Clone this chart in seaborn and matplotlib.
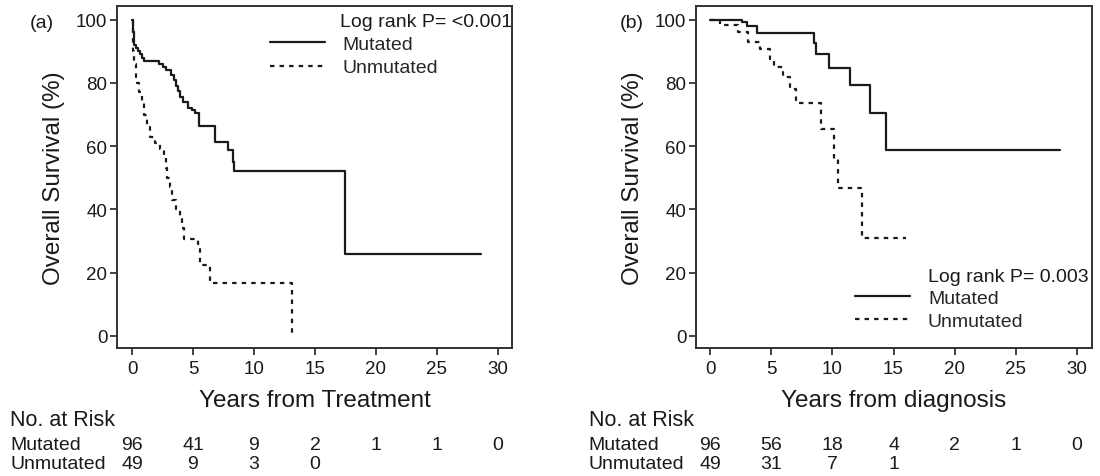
import matplotlib
matplotlib.use("Agg")
import matplotlib.pyplot as plt
import matplotlib.transforms as mtransforms
import seaborn as sns
import pandas as pd

# ---------------- data ----------------
# Panel (a): years from treatment
a_mut_t = [0, 0.05, 0.1, 0.15, 0.2, 0.35, 0.5, 0.65, 0.8, 0.95, 2.2, 2.5, 2.75, 3.2, 3.45,
           3.6, 3.75, 3.9, 4.2, 4.6, 4.9, 5.2, 5.5, 6.8, 7.9, 8.25, 8.35, 17.5, 28.6]
a_mut_s = [100, 98, 96, 94, 92, 91, 90, 89, 88, 87, 86, 85, 84, 82.5, 81,
           79, 77.5, 75.6, 74, 72, 71.5, 70.5, 66.5, 61.4, 58.7, 55, 52, 26, 26]
a_unm_t = [0, 0.05, 0.1, 0.2, 0.3, 0.45, 0.6, 0.8, 1.0, 1.2, 1.5, 1.9, 2.3, 2.6, 2.75,
           2.9, 3.1, 3.3, 3.6, 3.9, 4.1, 4.3, 5.45, 5.6, 6.4, 13.1]
a_unm_s = [100, 94, 90, 86, 82, 80, 77, 74, 70, 66, 63, 61, 59, 57, 53,
           50, 47, 43, 40, 37, 34, 30.5, 29, 22.5, 16.8, 0]

# Panel (b): years from diagnosis
b_mut_t = [0, 2.6, 3.0, 3.8, 8.5, 8.7, 9.7, 11.45, 13.05, 14.4, 28.6]
b_mut_s = [100, 99.2, 97.9, 95.8, 92.6, 89, 84.7, 79.2, 70.5, 58.7, 58.7]
b_unm_t = [0, 0.8, 2.3, 3.1, 4.1, 4.9, 5.2, 6.0, 6.5, 7.0, 9.05, 10.1, 10.45, 12.45, 16.05]
b_unm_s = [100, 98.3, 96, 93, 90.7, 87.6, 85, 81.8, 78, 73.6, 65.4, 56, 46.7, 31, 31]

groups = ["Mutated", "Unmutated"]
risk_times = [0, 5, 10, 15, 20, 25, 30]
a_risk_mut = ["96", "41", "9", "2", "1", "1", "0"]
a_risk_unm = ["49", "9", "3", "0"]
b_risk_mut = ["96", "56", "18", "4", "2", "1", "0"]
b_risk_unm = ["49", "31", "7", "1"]

xticks = [0, 5, 10, 15, 20, 25, 30]
yticks = [0, 20, 40, 60, 80, 100]

# ---------------- style ----------------
sns.set_style("ticks")
plt.rcParams["font.family"] = ["Liberation Sans", "DejaVu Sans"]
plt.rcParams["axes.edgecolor"] = "#333333"
plt.rcParams["axes.linewidth"] = 1.4

W, H = 1100, 477
fig = plt.figure(figsize=(W / 100, H / 100), dpi=100)

def px_axes(l, r, t, b):
    return fig.add_axes([l / W, 1 - b / H, (r - l) / W, (b - t) / H])

ax_a = px_axes(117, 512, 7.3, 349)
ax_b = px_axes(696, 1091.7, 7.3, 349)

LINE = "#1a1a1a"
DOT = (0, (2, 2.3))

def draw_panel(ax, mt, ms, ut, us, xlim):
    dm = pd.DataFrame({"t": mt, "s": ms})
    du = pd.DataFrame({"t": ut, "s": us})
    sns.lineplot(data=dm, x="t", y="s", ax=ax, estimator=None, sort=False,
                 drawstyle="steps-post", color=LINE, linewidth=1.6, label=groups[0])
    sns.lineplot(data=du, x="t", y="s", ax=ax, estimator=None, sort=False,
                 drawstyle="steps-post", color=LINE, linewidth=1.6, linestyle=DOT,
                 label=groups[1])
    ax.set_xlim(*xlim)
    ax.set_ylim(-3.8, 104.2)
    ax.set_xticks(xticks)
    ax.set_yticks(yticks)
    ax.tick_params(axis="both", direction="out", length=5, width=1.3,
                   color="#333333", labelsize=13.5, labelcolor="#1a1a1a")
    ax.tick_params(axis="x", pad=4)
    ax.tick_params(axis="y", pad=2)
    ax.set_ylabel("Overall Survival (%)", fontsize=17.5, color="#1a1a1a", labelpad=8)
    for sp in ax.spines.values():
        sp.set_visible(True)

draw_panel(ax_a, a_mut_t, a_mut_s, a_unm_t, a_unm_s, (-1.23, 31.15))
draw_panel(ax_b, b_mut_t, b_mut_s, b_unm_t, b_unm_s, (-1.15, 31.2))
ax_a.set_xlabel("Years from Treatment", fontsize=17.5, color="#1a1a1a", labelpad=8)
ax_b.set_xlabel("Years from diagnosis", fontsize=17.5, color="#1a1a1a", labelpad=8)

# legends
for ax, lx, ly in [(ax_a, 0.387, 0.855), (ax_b, 0.402, 0.112)]:
    ax.legend(loc="center left", bbox_to_anchor=(lx, ly), frameon=False,
              fontsize=14, handlelength=2.85, handletextpad=0.9,
              labelspacing=0.3, borderpad=0, borderaxespad=0)

ax_a.text(0.5646, 0.955, "Log rank P= <0.001", transform=ax_a.transAxes,
          fontsize=14, va="center", ha="left", color="#1a1a1a")
ax_b.text(0.586, 0.2107, "Log rank P= 0.003", transform=ax_b.transAxes,
          fontsize=14, va="center", ha="left", color="#1a1a1a")

# panel labels
fig.text(30 / W, 1 - 23 / H, "(a)", fontsize=14, va="center", ha="left", color="#1a1a1a")
fig.text(620 / W, 1 - 23 / H, "(b)", fontsize=14, va="center", ha="left", color="#1a1a1a")

# risk tables
def risk_table(ax, x0px, mut, unm):
    fig.text(x0px / W, 1 - 421 / H, "No. at Risk", fontsize=15.5, va="center",
             ha="left", color="#1a1a1a")
    fig.text(x0px / W, 1 - 445.5 / H, groups[0], fontsize=14, va="center",
             ha="left", color="#1a1a1a")
    fig.text(x0px / W, 1 - 465 / H, groups[1], fontsize=14, va="center",
             ha="left", color="#1a1a1a")
    tr = mtransforms.blended_transform_factory(ax.transData, fig.transFigure)
    for t, v in zip(risk_times, mut):
        ax.text(t, 1 - 445.5 / H, v, transform=tr, fontsize=14, ha="center",
                va="center", color="#1a1a1a", clip_on=False)
    for t, v in zip(risk_times, unm):
        ax.text(t, 1 - 465 / H, v, transform=tr, fontsize=14, ha="center",
                va="center", color="#1a1a1a", clip_on=False)

risk_table(ax_a, 10.5, a_risk_mut, a_risk_unm)
risk_table(ax_b, 588.6, b_risk_mut, b_risk_unm)

fig.savefig("out.png", dpi=100)
